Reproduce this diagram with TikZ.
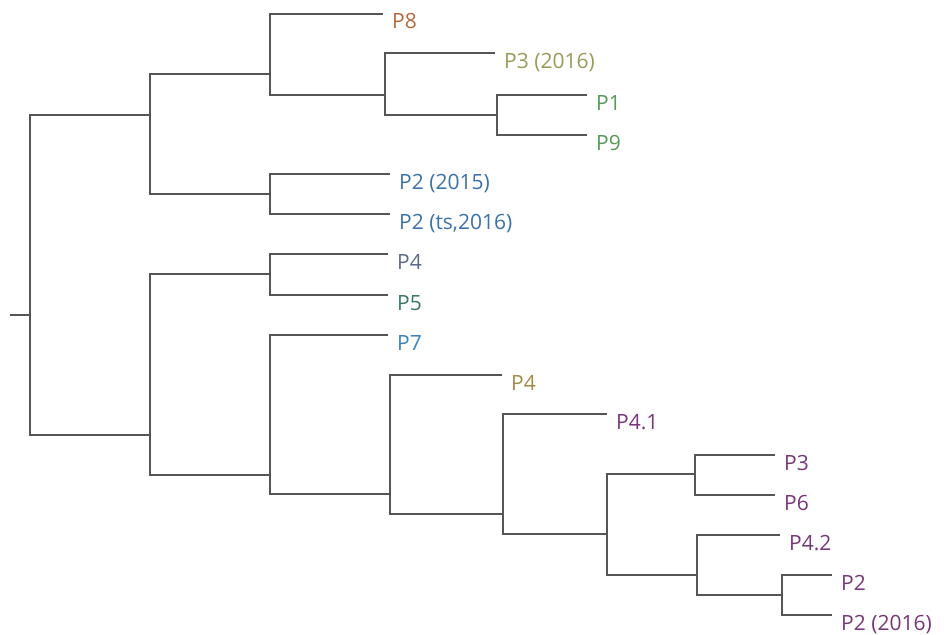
\documentclass[tikz,border=0pt]{standalone}
\usepackage{fontspec}
\setmainfont{Open Sans}
\definecolor{linegray}{HTML}{555555}
\definecolor{cbrown}{HTML}{B5683C}
\definecolor{colive}{HTML}{9A9A58}
\definecolor{cgreen}{HTML}{569A56}
\definecolor{cblue}{HTML}{3A72AC}
\definecolor{cslate}{HTML}{5C6A8A}
\definecolor{cteal}{HTML}{3A7A6A}
\definecolor{csky}{HTML}{3A82C2}
\definecolor{ctan}{HTML}{A48A42}
\definecolor{cpurple}{HTML}{7A367A}
\tikzset{
	branch/.style={draw=linegray,line width=2.7pt},
	leaf/.style={anchor=base west,inner sep=0pt,xshift=9pt,yshift=-15pt,
		font=\fontsize{21}{25}\selectfont}
}

\begin{document}
\begin{tikzpicture}[x=1pt,y=-1pt]
	\useasboundingbox (0,0) rectangle (944,634);
	% inner nodes of the tree
	\coordinate (stub) at (10,315);
	\coordinate (root) at (30,315);
	\coordinate (a) at (150,115);
	\coordinate (b) at (270,74);
	\coordinate (d) at (385,95);
	\coordinate (e) at (497,115);
	\coordinate (c) at (270,194);
	\coordinate (f) at (150,435);
	\coordinate (g) at (270,274);
	\coordinate (h) at (270,475);
	\coordinate (i) at (390,494);
	\coordinate (j) at (503,514);
	\coordinate (k) at (607,534);
	\coordinate (l) at (695,474);
	\coordinate (m) at (697,575);
	\coordinate (n) at (782,595);
	% tips of the leaves
	\coordinate (tP8) at (383,14);
	\coordinate (tP3a) at (495,53);
	\coordinate (tP1) at (587,95);
	\coordinate (tP9) at (587,135);
	\coordinate (tP2a) at (390,174);
	\coordinate (tP2b) at (390,214);
	\coordinate (tP4a) at (388,254);
	\coordinate (tP5) at (388,295);
	\coordinate (tP7) at (388,335);
	\coordinate (tP4b) at (502,375);
	\coordinate (tP41) at (607,414);
	\coordinate (tP3b) at (775,455);
	\coordinate (tP6) at (775,495);
	\coordinate (tP42) at (780,535);
	\coordinate (tP2c) at (832,575);
	\coordinate (tP2d) at (832,615);
	% labels
	\node [leaf,text=cbrown] (P8) at (tP8) {P8};
	\node [leaf,text=colive] (P3a) at (tP3a) {P3 (2016)};
	\node [leaf,text=cgreen] (P1) at (tP1) {P1};
	\node [leaf,text=cgreen] (P9) at (tP9) {P9};
	\node [leaf,text=cblue] (P2a) at (tP2a) {P2 (2015)};
	\node [leaf,text=cblue] (P2b) at (tP2b) {P2 (ts,2016)};
	\node [leaf,text=cslate] (P4a) at (tP4a) {P4};
	\node [leaf,text=cteal] (P5) at (tP5) {P5};
	\node [leaf,text=csky] (P7) at (tP7) {P7};
	\node [leaf,text=ctan] (P4b) at (tP4b) {P4};
	\node [leaf,text=cpurple] (P41) at (tP41) {P4.1};
	\node [leaf,text=cpurple] (P3b) at (tP3b) {P3};
	\node [leaf,text=cpurple] (P6) at (tP6) {P6};
	\node [leaf,text=cpurple] (P42) at (tP42) {P4.2};
	\node [leaf,text=cpurple] (P2c) at (tP2c) {P2};
	\node [leaf,text=cpurple] (P2d) at (tP2d) {P2 (2016)};
	% branches
	\draw [branch] (stub) -- (root);
	\draw [branch] (a) -| (root) |- (f);
	\draw [branch] (b) -| (a) |- (c);
	\draw [branch] (tP8) -| (b) |- (d);
	\draw [branch] (tP3a) -| (d) |- (e);
	\draw [branch] (tP1) -| (e) |- (tP9);
	\draw [branch] (tP2a) -| (c) |- (tP2b);
	\draw [branch] (g) -| (f) |- (h);
	\draw [branch] (tP4a) -| (g) |- (tP5);
	\draw [branch] (tP7) -| (h) |- (i);
	\draw [branch] (tP4b) -| (i) |- (j);
	\draw [branch] (tP41) -| (j) |- (k);
	\draw [branch] (l) -| (k) |- (m);
	\draw [branch] (tP3b) -| (l) |- (tP6);
	\draw [branch] (tP42) -| (m) |- (n);
	\draw [branch] (tP2c) -| (n) |- (tP2d);
\end{tikzpicture}
\end{document}
